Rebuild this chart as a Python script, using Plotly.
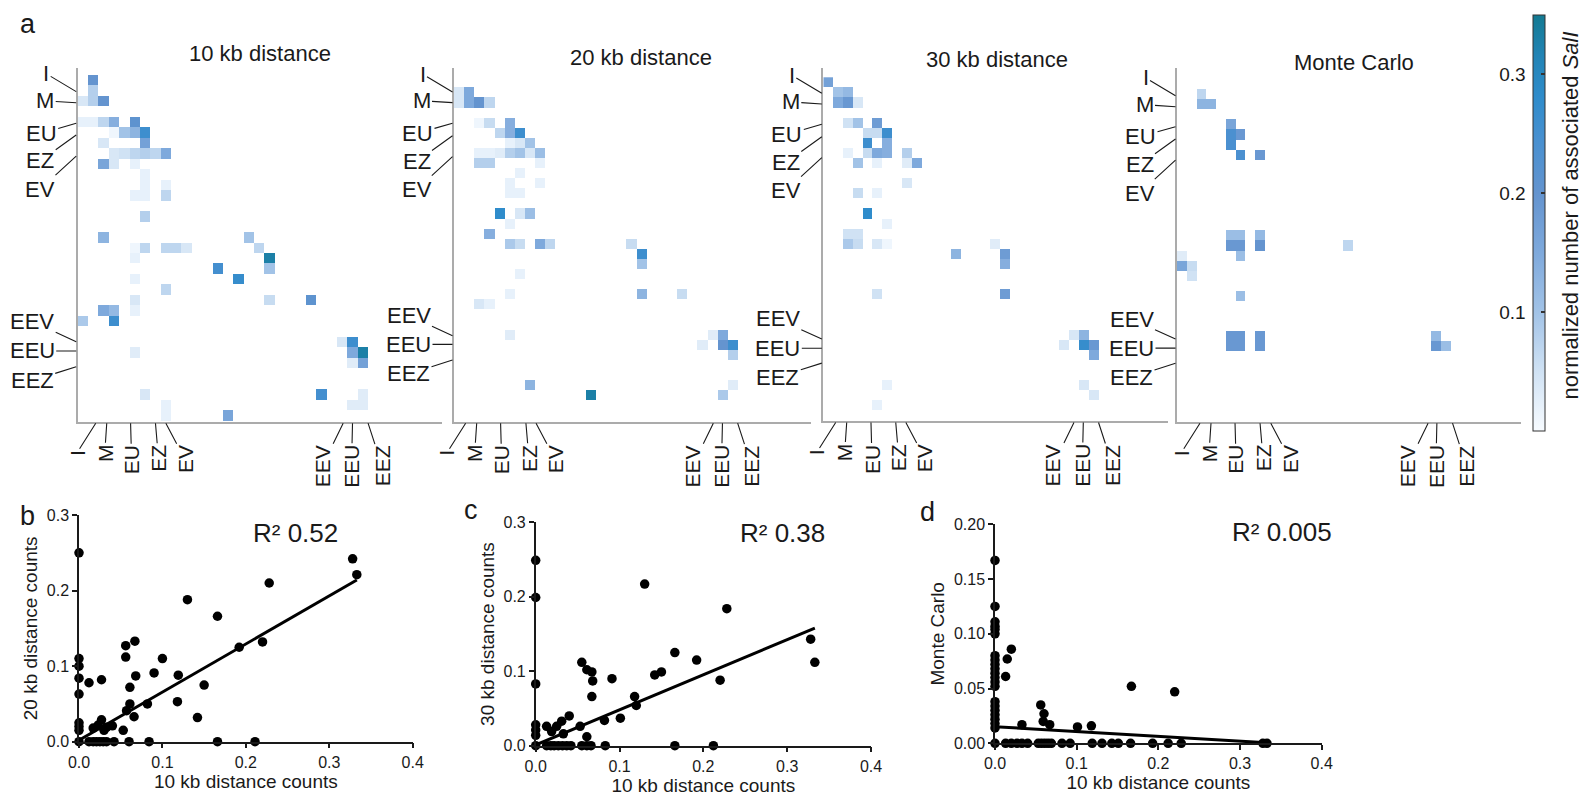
import plotly.graph_objects as go

W, H = 1588, 798
FONT = "Liberation Sans, Arial, Helvetica, sans-serif"
INK = "#1a1a1a"

# ---------------- heatmap data (row, column, normalized value) ----------------
categories = ["I", "M", "EU", "EZ", "EV", "EEV", "EEU", "EEZ"]
panel_titles = ["10 kb distance", "20 kb distance", "30 kb distance", "Monte Carlo"]
N_ROWS, N_COLS = 34, 35

cells_10kb = [
    (0, 1, 0.20), (1, 1, 0.08), (2, 0, 0.04), (2, 1, 0.08), (2, 2, 0.20),
    (4, 0, 0.02), (4, 1, 0.02), (4, 2, 0.07), (4, 3, 0.14), (4, 5, 0.21),
    (5, 3, 0.01), (5, 4, 0.10), (5, 5, 0.13), (5, 6, 0.26),
    (6, 2, 0.04), (6, 6, 0.17),
    (7, 3, 0.04), (7, 4, 0.05), (7, 5, 0.07), (7, 6, 0.08), (7, 7, 0.07), (7, 8, 0.15),
    (8, 2, 0.16), (8, 3, 0.04), (8, 5, 0.02),
    (9, 6, 0.02), (10, 6, 0.02), (10, 8, 0.02),
    (11, 5, 0.02), (11, 6, 0.02), (11, 8, 0.07),
    (13, 6, 0.08),
    (15, 2, 0.13), (15, 16, 0.10),
    (16, 5, 0.01), (16, 6, 0.07), (16, 8, 0.07), (16, 9, 0.07), (16, 10, 0.04), (16, 17, 0.07),
    (17, 5, 0.02), (17, 18, 0.33),
    (18, 13, 0.25), (18, 18, 0.10),
    (19, 5, 0.02), (19, 15, 0.27),
    (20, 8, 0.07),
    (21, 5, 0.04), (21, 18, 0.06), (21, 22, 0.21),
    (22, 2, 0.15), (22, 3, 0.12), (22, 5, 0.02),
    (23, 0, 0.09), (23, 3, 0.26),
    (25, 25, 0.04), (25, 26, 0.26),
    (26, 5, 0.03), (26, 26, 0.15), (26, 27, 0.33),
    (27, 26, 0.03), (27, 27, 0.17),
    (30, 6, 0.04), (30, 23, 0.25), (30, 27, 0.03),
    (31, 8, 0.02), (31, 26, 0.03), (31, 27, 0.03),
    (32, 8, 0.02), (32, 14, 0.16),
]

cells_20kb = [
    (1, 0, 0.04), (1, 1, 0.15),
    (2, 0, 0.04), (2, 1, 0.15), (2, 2, 0.20), (2, 3, 0.07),
    (4, 2, 0.01), (4, 3, 0.06), (4, 5, 0.14),
    (5, 4, 0.07), (5, 5, 0.14), (5, 6, 0.26),
    (6, 5, 0.02), (6, 6, 0.04), (6, 7, 0.10),
    (7, 2, 0.02), (7, 3, 0.02), (7, 4, 0.03), (7, 5, 0.08), (7, 6, 0.10), (7, 7, 0.04), (7, 8, 0.11),
    (8, 2, 0.08), (8, 3, 0.08), (8, 8, 0.02),
    (9, 6, 0.02), (10, 5, 0.02), (10, 8, 0.02),
    (11, 5, 0.02), (11, 6, 0.02),
    (13, 4, 0.28), (13, 6, 0.04), (13, 7, 0.11),
    (14, 5, 0.02),
    (15, 3, 0.14),
    (16, 5, 0.09), (16, 6, 0.06), (16, 8, 0.15), (16, 9, 0.07), (16, 17, 0.06),
    (17, 18, 0.26), (18, 18, 0.10),
    (19, 6, 0.02),
    (21, 5, 0.02), (21, 18, 0.13), (21, 22, 0.06),
    (22, 2, 0.04), (22, 3, 0.02),
    (25, 5, 0.03), (25, 25, 0.03), (25, 26, 0.15),
    (26, 24, 0.03), (26, 26, 0.20), (26, 27, 0.26),
    (27, 27, 0.08),
    (30, 7, 0.13), (30, 27, 0.03),
    (31, 13, 0.33), (31, 26, 0.09),
]

cells_30kb = [
    (0, 0, 0.17),
    (1, 1, 0.10), (1, 2, 0.12),
    (2, 1, 0.15), (2, 2, 0.19), (2, 3, 0.04),
    (4, 2, 0.05), (4, 3, 0.10), (4, 5, 0.18),
    (5, 4, 0.06), (5, 5, 0.06), (5, 6, 0.26),
    (6, 4, 0.26), (6, 6, 0.14),
    (7, 2, 0.02), (7, 4, 0.06), (7, 5, 0.15), (7, 6, 0.14), (7, 8, 0.08),
    (8, 3, 0.10), (8, 5, 0.02), (8, 8, 0.03), (8, 9, 0.15),
    (10, 8, 0.04),
    (11, 3, 0.06), (11, 5, 0.02),
    (13, 4, 0.28),
    (14, 6, 0.02),
    (15, 2, 0.05), (15, 3, 0.05),
    (16, 2, 0.09), (16, 3, 0.06), (16, 5, 0.04), (16, 6, 0.01), (16, 17, 0.03),
    (17, 13, 0.13), (17, 18, 0.18),
    (18, 18, 0.14),
    (21, 5, 0.05), (21, 18, 0.18),
    (25, 25, 0.04), (25, 26, 0.13),
    (26, 24, 0.04), (26, 26, 0.27), (26, 27, 0.19),
    (27, 27, 0.15),
    (30, 6, 0.02), (30, 26, 0.04),
    (31, 27, 0.04),
    (32, 5, 0.02),
]

cells_mc = [
    (1, 2, 0.07),
    (2, 2, 0.13), (2, 3, 0.13),
    (4, 5, 0.16),
    (5, 5, 0.24), (5, 6, 0.19),
    (6, 5, 0.24),
    (7, 6, 0.24), (7, 8, 0.19),
    (15, 5, 0.11), (15, 6, 0.11), (15, 8, 0.12),
    (16, 5, 0.19), (16, 6, 0.19), (16, 8, 0.20), (16, 17, 0.07),
    (17, 0, 0.03), (17, 6, 0.11),
    (18, 0, 0.16), (18, 1, 0.06),
    (19, 1, 0.05),
    (21, 6, 0.11),
    (25, 5, 0.19), (25, 6, 0.19), (25, 8, 0.19), (25, 26, 0.12),
    (26, 5, 0.19), (26, 6, 0.19), (26, 8, 0.19), (26, 26, 0.19), (26, 27, 0.11),
]

heat_cells = [cells_10kb, cells_20kb, cells_30kb, cells_mc]

# tick (leader-line) positions in cell units, per panel
ytick_pos = [
    [1.09, 2.15, 4.11, 5.23, 7.24, 24.97, 25.86, 27.36],
    [0.96, 2.01, 4.05, 5.28, 7.36, 25.08, 25.94, 27.49],
    [1.08, 2.14, 4.15, 5.38, 7.46, 25.41, 26.33, 27.80],
    [1.16, 2.25, 4.23, 5.45, 7.54, 25.30, 26.20, 27.70],
]
xtick_pos = [
    [1.24, 2.30, 4.60, 7.00, 8.00, 25.10, 26.00, 27.50],
    [0.65, 1.74, 4.10, 6.60, 7.60, 25.10, 26.00, 27.50],
    [0.76, 1.88, 4.35, 6.87, 7.90, 25.00, 25.95, 27.50],
    [1.85, 2.98, 5.44, 8.00, 9.10, 25.20, 26.10, 27.70],
]

# colour bar
cbar_range = [0, 0.35]
cbar_ticks = [0.1, 0.2, 0.3]
cbar_title = "normalized number of associated <i>SalI</i>"

# ---------------- scatter data ----------------
b_x = [0, 0, 0, 0, 0, 0, 0, 0, 0,
       0.012, 0.027, 0.012, 0.017, 0.021, 0.025, 0.029, 0.033, 0.042,
       0.017, 0.023, 0.027, 0.030, 0.033, 0.040, 0.053,
       0.056, 0.056, 0.067, 0.061, 0.061, 0.057, 0.066, 0.068, 0.060,
       0.082, 0.084, 0.090, 0.100, 0.119, 0.118, 0.130, 0.142, 0.150, 0.166, 0.166,
       0.192, 0.211, 0.220, 0.228, 0.328, 0.333]
b_y = [0.250, 0.110, 0.100, 0.084, 0.063, 0.025, 0.020, 0.015, 0,
       0.078, 0.082, 0, 0, 0, 0, 0, 0, 0,
       0.018, 0.022, 0.029, 0.015, 0.019, 0.021, 0.015,
       0.127, 0.112, 0.133, 0.072, 0.050, 0.041, 0.033, 0.087, 0,
       0.050, 0, 0.091, 0.110, 0.088, 0.053, 0.188, 0.032, 0.075, 0.166, 0,
       0.125, 0, 0.132, 0.210, 0.242, 0.221]
fit_b_x = [0.0, 0.333]
fit_b_y = [0.002, 0.214]

c_x = [0, 0, 0, 0, 0, 0, 0,
       0.013, 0.019, 0.025, 0.031, 0.040, 0.033,
       0.013, 0.018, 0.022, 0.027, 0.032, 0.037, 0.042,
       0.053, 0.061, 0.055, 0.061, 0.067, 0.068, 0.067,
       0.055, 0.061, 0.066,
       0.082, 0.083, 0.091, 0.101, 0.118, 0.120, 0.130, 0.142, 0.150, 0.166, 0.166,
       0.192, 0.212, 0.220, 0.228, 0.328, 0.333]
c_y = [0.249, 0.199, 0.083, 0.028, 0.021, 0.014, 0,
       0.026, 0.019, 0.026, 0.033, 0.040, 0.016,
       0, 0, 0, 0, 0, 0, 0,
       0.026, 0.012, 0.112, 0.102, 0.099, 0.087, 0.066,
       0, 0, 0,
       0.034, 0, 0.090, 0.037, 0.066, 0.054, 0.217, 0.095, 0.099, 0.125, 0,
       0.115, 0, 0.088, 0.184, 0.143, 0.112]
fit_c_x = [0.0, 0.333]
fit_c_y = [0.001, 0.158]

d_x = [0] * 22 + [0.015, 0.020, 0.013, 0.033, 0.056, 0.060, 0.059, 0.067, 0.101, 0.118, 0.167, 0.220] + \
      [0.013, 0.020, 0.027, 0.033, 0.040, 0.053, 0.057, 0.061, 0.065, 0.069, 0.082, 0.092,
       0.119, 0.131, 0.143, 0.151, 0.166, 0.193, 0.212, 0.228, 0.328, 0.333]
d_y = [0.167, 0.125, 0.111, 0.107, 0.104, 0.100, 0.080, 0.076, 0.072, 0.068, 0.064, 0.060,
       0.056, 0.052, 0.038, 0.034, 0.030, 0.026, 0.022, 0.018, 0.014, 0.0] + \
      [0.077, 0.086, 0.061, 0.017, 0.035, 0.027, 0.020, 0.017, 0.015, 0.016, 0.052, 0.047] + \
      [0.0] * 22
fit_d_x = [0.0, 0.333]
fit_d_y = [0.0152, 0.0005]

scatter_sets = [(b_x, b_y, fit_b_x, fit_b_y), (c_x, c_y, fit_c_x, fit_c_y), (d_x, d_y, fit_d_x, fit_d_y)]
scatter_ytitles = ["20 kb distance counts", "30 kb distance counts", "Monte Carlo"]
scatter_xtitle = "10 kb distance counts"
r2_labels = ["R² 0.52", "R² 0.38", "R² 0.005"]
x_ticks = [0.0, 0.1, 0.2, 0.3, 0.4]
y_ticks = [[0.0, 0.1, 0.2, 0.3], [0.0, 0.1, 0.2, 0.3], [0.0, 0.05, 0.10, 0.15, 0.20]]
y_ranges = [[0, 0.3], [0, 0.3], [0, 0.2]]
y_fmt = [".1f", ".1f", ".2f"]

# ---------------- layout geometry (pixels) ----------------
heat_geom = [  # left, right, top, bottom, first row top, cell width, cell height
    (77.7, 442.0, 68.3, 421.7, 75.0, 10.37, 10.47),
    (454.0, 810.7, 68.3, 421.7, 77.3, 10.13, 10.10),
    (823.3, 1167.7, 68.3, 421.0, 77.3, 9.83, 10.10),
    (1177.0, 1520.7, 68.3, 421.7, 79.0, 9.77, 10.08),
]
title_px = [(259.5, 53.3), (640.5, 57.3), (997.0, 59.3), (1353.8, 62.7)]
ylab_off = [(-30, -18), (-31, -2), (-35, 10), (-36, 26), (-36, 33), (-44, -20), (-44, 0), (-44, 14)]
xlab_off = [(-19, 30), (-2, 30), (1, 36.5), (3, 35), (19, 36), (-21, 43), (-1, 43), (14, 43)]
scatter_geom = [(79.0, 412.7, 515.0, 741.7), (535.7, 871.0, 522.3, 745.7), (995.0, 1321.7, 524.3, 743.3)]
r2_px = [(295.0, 532.7), (782.5, 532.7), (1281.7, 531.7)]
letters = [("a", 27.7, 24.5), ("b", 27.0, 516.0), ("c", 471.0, 509.5), ("d", 927.0, 512.0)]
cbar_px = (1532.7, 1545.0, 15.0, 430.7)
cbar_title_px = (1570.0, 215.5)

colorscale = [
    [0.0, "#f7fbff"], [0.143, "#d0e2f4"], [0.286, "#a2c3e7"], [0.43, "#7ea9dc"],
    [0.571, "#6494cf"], [0.70, "#4890d0"], [0.80, "#2f8ccb"], [0.90, "#2284b6"], [1.0, "#137a92"],
]


def px_x(p):
    return p / W


def px_y(p):
    return 1 - p / H


def grid(cells):
    z = [[None] * N_COLS for _ in range(N_ROWS)]
    for r, c, v in cells:
        z[r][c] = v
    return z


def paper_text(text, x, y, size, angle=0):
    return dict(x=px_x(x), y=px_y(y), xref="paper", yref="paper", text=text, showarrow=False,
                xanchor="center", yanchor="middle", textangle=angle,
                font=dict(size=size, family=FONT, color=INK))


fig = go.Figure()
layout = {}
annotations = []
txt = dict(family=FONT, color=INK)

for i, (cells, g) in enumerate(zip(heat_cells, heat_geom)):
    sid = "" if i == 0 else str(i + 1)
    L, R, T, B, r0, cw, ch = g
    fig.add_trace(go.Heatmap(
        z=grid(cells), x=list(range(N_COLS)), y=list(range(N_ROWS)),
        coloraxis="coloraxis", xaxis="x" + sid, yaxis="y" + sid, hoverongaps=False,
    ))
    layout["xaxis" + sid] = dict(
        domain=[px_x(L), px_x(R)], range=[-0.5, -0.5 + (R - L) / cw], anchor="y" + sid,
        showline=True, linecolor="#ababab", linewidth=2, showgrid=False, zeroline=False,
        showticklabels=False, ticks="",
    )
    layout["yaxis" + sid] = dict(
        domain=[px_y(B), px_y(T)], range=[-0.5 + (B - r0) / ch, -0.5 + (T - r0) / ch], anchor="x" + sid,
        showline=True, linecolor="#ababab", linewidth=2, showgrid=False, zeroline=False,
        showticklabels=False, ticks="",
    )
    for lab, yp, (ox, oy) in zip(categories, ytick_pos[i], ylab_off):
        annotations.append(dict(
            x=0, xref="x%s domain" % sid, y=yp, yref="y" + sid, text=lab,
            showarrow=True, arrowhead=0, arrowwidth=1.1, arrowcolor=INK, ax=ox, ay=oy,
            xshift=-1.5, font=dict(size=22, **txt),
        ))
    for lab, xp, (ox, oy) in zip(categories, xtick_pos[i], xlab_off):
        annotations.append(dict(
            x=xp, xref="x" + sid, y=0, yref="y%s domain" % sid, text=lab, textangle=-90,
            showarrow=True, arrowhead=0, arrowwidth=1.1, arrowcolor=INK, ax=ox, ay=oy,
            yshift=-1.5, font=dict(size=21, **txt),
        ))
    tx, ty = title_px[i]
    annotations.append(paper_text(panel_titles[i], tx, ty, 22))

for j, ((sx, sy, fx, fy), g) in enumerate(zip(scatter_sets, scatter_geom)):
    n = 5 + j
    sid = str(n)
    L, R, T, B = g
    fig.add_trace(go.Scatter(x=sx, y=sy, mode="markers", xaxis="x" + sid, yaxis="y" + sid,
                             marker=dict(size=9.5, color="black"), cliponaxis=False, showlegend=False))
    fig.add_trace(go.Scatter(x=fx, y=fy, mode="lines", xaxis="x" + sid, yaxis="y" + sid,
                             line=dict(color="black", width=3), cliponaxis=False, showlegend=False))
    axis_common = dict(showline=True, linecolor=INK, linewidth=1.5, showgrid=False, zeroline=False,
                       ticks="outside", ticklen=5, tickwidth=1.5, tickcolor=INK,
                       tickfont=dict(size=16, **txt))
    layout["xaxis" + sid] = dict(
        domain=[px_x(L), px_x(R)], range=[0, 0.4], anchor="y" + sid, tickvals=x_ticks, tickformat=".1f",
        title=dict(text=scatter_xtitle, font=dict(size=19, **txt), standoff=3), **axis_common,
    )
    layout["yaxis" + sid] = dict(
        domain=[px_y(B), px_y(T)], range=y_ranges[j], anchor="x" + sid, tickvals=y_ticks[j],
        tickformat=y_fmt[j], title=dict(text=scatter_ytitles[j], font=dict(size=19, **txt), standoff=4),
        **axis_common,
    )
    rx, ry = r2_px[j]
    annotations.append(paper_text(r2_labels[j], rx, ry, 26))

for lab, lx, ly in letters:
    annotations.append(paper_text(lab, lx, ly, 27))

# colour bar tick labels on the left side via a hidden helper axis
cL, cR, cT, cB = cbar_px
fig.add_trace(go.Scatter(x=[], y=[], xaxis="x8", yaxis="y8", showlegend=False, hoverinfo="skip"))
layout["xaxis8"] = dict(domain=[px_x(cL), px_x(cR)], range=[0, 1], anchor="y8", visible=False)
layout["yaxis8"] = dict(domain=[px_y(cB), px_y(cT)], range=cbar_range, anchor="x8", side="left",
                        tickvals=cbar_ticks, tickformat=".1f", ticks="inside", ticklen=4, tickwidth=1.5,
                        tickcolor="#333", showline=False, showgrid=False, zeroline=False,
                        ticklabelstandoff=6, tickfont=dict(size=19, **txt))
annotations.append(paper_text(cbar_title, cbar_title_px[0], cbar_title_px[1], 22, angle=-90))

layout["coloraxis"] = dict(
    cmin=cbar_range[0], cmax=cbar_range[1], colorscale=colorscale,
    colorbar=dict(
        x=px_x(cL), xanchor="left", y=px_y(cT), yanchor="top",
        len=(cB - cT) / H, lenmode="fraction", thickness=cR - cL, thicknessmode="pixels",
        outlinewidth=1, outlinecolor="#333", tickvals=cbar_ticks, ticks="inside", ticklen=4,
        tickwidth=1.5, tickcolor="#333", showticklabels=False, xpad=0, ypad=0,
    ),
)

fig.update_layout(
    width=W, height=H, margin=dict(l=0, r=0, t=0, b=0, pad=0, autoexpand=False),
    paper_bgcolor="white", plot_bgcolor="white", showlegend=False,
    font=dict(family=FONT, color=INK), annotations=annotations, **layout,
)

fig.write_html("out.html", config={"displayModeBar": False},
               post_script="document.body.style.margin='0';")
